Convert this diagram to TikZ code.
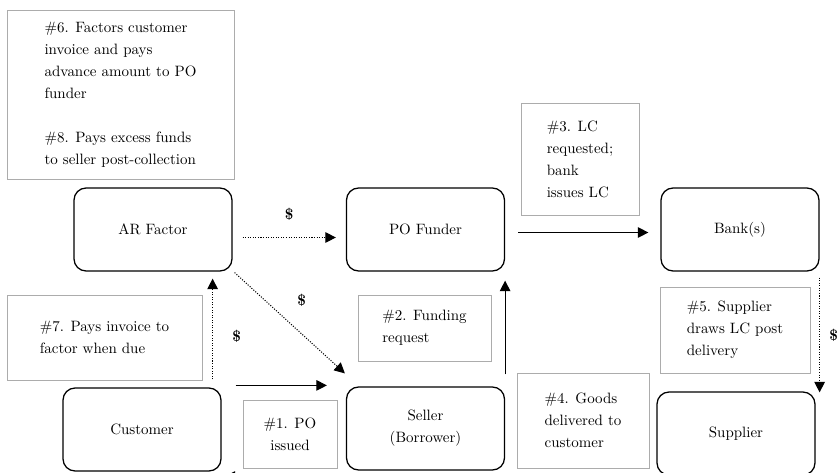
\documentclass[tikz,border=0pt]{standalone}
\usetikzlibrary{arrows.meta, calc}
\tikzset{
    party/.style={draw, line width=0.85pt, rounded corners=8pt, minimum width=105.3pt, minimum height=55.3pt, align=center, inner sep=0pt, font=\fontsize{10}{14.7}\selectfont},
    note/.style={draw=gray!65, line width=0.6pt, align=left, inner sep=0pt, font=\fontsize{10}{14.7}\selectfont},
    flow/.style={-{Triangle[length=7pt, width=7pt]}, line width=0.7pt},
    cash/.style={-{Triangle[length=7pt, width=7pt]}, line width=0.7pt, densely dotted},
    dollar/.style={font=\bfseries, inner sep=0pt}
}

\begin{document}
\begin{tikzpicture}[x=0.6667pt, y=-0.6667pt]
    \useasboundingbox (0,0) rectangle (838,472);
    \clip (0,0) rectangle (838,472);
    % Участники
    \node[party] (ar) at (153,229.5) {AR Factor};
    \node[party] (po) at (425.5,229.5) {PO Funder};
    \node[party] (bank) at (740,229.5) {Bank(s)};
    \node[party] (customer) at (142,429.5) {Customer};
    \node[party] (seller) at (425.5,428.5) {Seller\\(Borrower)};
    \node[party] (supplier) at (736,433.5) {Supplier};
    % Пояснения
    \node[note, minimum width=151.3pt, minimum height=112.7pt] (n68) at (120.5,94.5)
        {\#6. Factors customer\\invoice and pays\\advance amount to PO\\funder\\[14.7pt]\#8. Pays excess funds\\to seller post-collection};
    \node[note, minimum width=130pt, minimum height=56.7pt] (n7) at (104.5,337.5) {\#7. Pays invoice to\\factor when due};
    \node[note, align=center, minimum width=62.7pt, minimum height=45.3pt] (n1) at (290,434) {\#1. PO\\issued};
    \node[note, minimum width=88.7pt, minimum height=44pt] (n2) at (424.5,328) {\#2. Funding\\request};
    \node[note, minimum width=78.7pt, minimum height=74.7pt] (n3) at (580,159) {\#3. LC\\requested;\\bank\\issues LC};
    \node[note, minimum width=88pt, minimum height=63.3pt] (n4) at (583,420.5) {\#4. Goods\\delivered to\\customer};
    \node[note, minimum width=100pt, minimum height=57.3pt] (n5) at (735,330) {\#5. Supplier\\draws LC post\\delivery};
    % Потоки
    \draw[flow] ([shift={(14,-2)}]customer.north east) -- ([shift={(-19,-1)}]seller.north west);
    \draw[flow] ([shift={(0,-12)}]seller.north east) -- ([shift={(0,9)}]po.south east);
    \draw[flow] ([shift={(13,3)}]po.east) -- ([shift={(-12,3)}]bank.west);
    \draw[flow] ([shift={(-12,5)}]seller.south west) -- ([shift={(3,5)}]customer.south east);
    % Денежные потоки
    \draw[cash] ([shift={(0,6)}]bank.south east) -- ([shift={(4,1)}]supplier.north east)
        node[dollar, midway, xshift=9.3pt]{\$};
    \draw[cash] ([shift={(10,8)}]ar.east) -- ([shift={(-10,8)}]po.west)
        node[dollar, midway, yshift=15.3pt]{\$};
    \draw[cash] ([shift={(-9,-8)}]customer.north east) -- ([shift={(-20,7)}]ar.south east)
        node[dollar, midway, xshift=16pt, yshift=-4.7pt]{\$};
    \draw[cash] ([shift={(2,1)}]ar.south east) -- ([shift={(-1,-13)}]seller.north west)
        node[dollar, midway, xshift=8pt, yshift=15.3pt]{\$};
\end{tikzpicture}
\end{document}
